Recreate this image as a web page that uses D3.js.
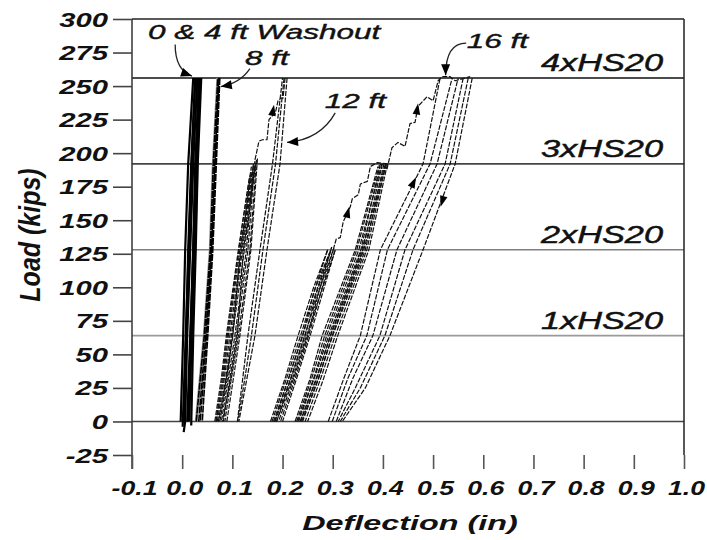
<!DOCTYPE html>
<html><head><meta charset="utf-8">
<script src="https://cdn.jsdelivr.net/npm/d3@7"></script>
<style>body{margin:0;background:#fff}svg{display:block}</style>
</head><body>
<svg id="c" width="707" height="540"></svg>
<script>
// ---------------- data ----------------
const xTicks = [-0.1,0.0,0.1,0.2,0.3,0.4,0.5,0.6,0.7,0.8,0.9,1.0];
const xTickLabels = ["-0.1","0.0","0.1","0.2","0.3","0.4","0.5","0.6","0.7","0.8","0.9","1.0"];
const yTicks = [-25,0,25,50,75,100,125,150,175,200,225,250,275,300];
const yTickLabels = ["-25","0","25","50","75","100","125","150","175","200","225","250","275","300"];
const hsLoads = [0,64,128,192,256];
const hsLabels = ["","1xHS20","2xHS20","3xHS20","4xHS20"];

// 0 & 4 ft washout cycles [deflection (in), load (kips)]
const washout0and4ft = [
  [[-0.003,0],[0.002,64],[0.006,128],[0.012,192],[0.022,256]],
  [[0.026,256],[0.018,192],[0.012,128],[0.008,64],[0.004,0]],
  [[0.003,-8],[0.006,0],[0.010,64],[0.016,128],[0.022,192],[0.030,256]],
  [[0.034,256],[0.026,192],[0.022,128],[0.017,64],[0.012,0]],
  [[0.010,0],[0.016,64],[0.022,128],[0.028,192],[0.036,256]],
  [[0.038,256],[0.031,192],[0.027,128],[0.022,64],[0.018,-3]],
  [[0.001,-4],[0.007,64],[0.013,128],[0.019,192],[0.026,256]],
  [[0.014,0],[0.019,64],[0.024,128],[0.029,192],[0.033,256]]
];
// 8 ft washout
const washout8ft = [
  [[0.028,0],[0.044,64],[0.056,128],[0.062,192],[0.071,256]],
  [[0.075,256],[0.068,192],[0.061,128],[0.051,64],[0.040,0]],
  [[0.033,0],[0.047,64],[0.058,128],[0.065,192],[0.073,256]],
  [[0.073,256],[0.066,192],[0.059,128],[0.049,64],[0.036,0]]
];
// 12 ft washout: cycles up to 3xHS20
const washout12ftCycles = [
  [[0.065,0],[0.078,32],[0.088,64],[0.112,128],[0.138,190]],
  [[0.148,195],[0.135,128],[0.112,64],[0.098,32],[0.085,0]],
  [[0.070,0],[0.084,32],[0.095,64],[0.118,128],[0.142,192]],
  [[0.142,192],[0.128,128],[0.105,64],[0.092,32],[0.078,0]],
  [[0.075,0],[0.090,32],[0.100,64],[0.124,128],[0.146,192]],
  [[0.150,196],[0.137,128],[0.115,64],[0.102,32],[0.089,0]],
  [[0.068,0],[0.082,32],[0.092,64],[0.115,128],[0.140,188]],
  [[0.144,190],[0.131,128],[0.108,64],[0.095,32],[0.082,0]],
  [[0.067,0],[0.080,32],[0.090,64],[0.110,120],[0.121,150],[0.134,182]],
  [[0.136,184],[0.125,150],[0.114,120],[0.101,64],[0.088,32],[0.073,0]],
  [[0.072,0],[0.087,32],[0.098,64],[0.120,128],[0.132,160],[0.145,194]],
  [[0.147,193],[0.134,160],[0.122,128],[0.110,64],[0.097,32],[0.080,0]]
];
// 12 ft washout: final loading to 4xHS20
const washout12ftFinal = [
  [[0.145,195],[0.148,200],[0.153,209],[0.160,210],[0.169,210],[0.173,225],[0.180,228],[0.185,229],[0.191,239],[0.197,241],[0.201,241],[0.205,256]],
  [[0.209,256],[0.195,192],[0.169,128],[0.145,64],[0.128,30],[0.113,0]],
  [[0.110,0],[0.120,30],[0.131,64],[0.155,128],[0.180,192],[0.200,256]],
  [[0.203,256],[0.186,192],[0.161,128],[0.138,64],[0.124,30],[0.111,0]]
];
// 16 ft washout: cycles to 2xHS20
const washout16ftStage1 = [
  [[0.176,0],[0.205,32],[0.231,64],[0.262,100],[0.290,128]],
  [[0.290,128],[0.262,96],[0.240,64],[0.212,32],[0.184,0]],
  [[0.182,0],[0.212,32],[0.240,64],[0.270,100],[0.298,130]],
  [[0.298,130],[0.272,96],[0.250,64],[0.222,32],[0.192,0]],
  [[0.188,0],[0.220,32],[0.248,64],[0.280,100],[0.305,128]],
  [[0.305,128],[0.280,96],[0.255,64],[0.228,32],[0.200,0]],
  [[0.179,0],[0.208,32],[0.236,64],[0.266,100],[0.294,126]],
  [[0.296,127],[0.268,96],[0.245,64],[0.217,32],[0.188,0]],
  [[0.185,0],[0.216,32],[0.244,64],[0.275,100],[0.302,129]],
  [[0.302,129],[0.276,96],[0.252,64],[0.225,32],[0.196,0]],
  [[0.301,128],[0.307,136],[0.315,137],[0.321,149],[0.335,160],[0.339,166],[0.351,169],[0.355,177],[0.369,179],[0.375,190],[0.389,193],[0.409,192]]
];
// 16 ft washout: cycles to 3xHS20
const washout16ftStage2 = [
  [[0.409,192],[0.372,128],[0.310,64],[0.280,30],[0.250,0]],
  [[0.225,0],[0.255,32],[0.279,64],[0.345,128],[0.390,190]],
  [[0.230,0],[0.262,32],[0.288,64],[0.352,128],[0.398,192]],
  [[0.402,192],[0.365,128],[0.300,64],[0.272,32],[0.240,0]],
  [[0.235,0],[0.268,32],[0.295,64],[0.358,128],[0.405,192]],
  [[0.395,192],[0.356,128],[0.292,64],[0.263,32],[0.232,0]],
  [[0.228,0],[0.258,32],[0.284,64],[0.348,128],[0.393,191]],
  [[0.406,192],[0.368,128],[0.305,64],[0.276,32],[0.245,0]],
  [[0.238,0],[0.271,32],[0.299,64],[0.362,128],[0.407,192]],
  [[0.399,192],[0.360,128],[0.296,64],[0.267,32],[0.236,0]]
];
// 16 ft washout: final cycles to 4xHS20
const washout16ftFinal = [
  [[0.408,188],[0.418,204],[0.430,208],[0.444,205],[0.454,222],[0.464,223],[0.470,235],[0.488,242],[0.500,239],[0.510,254],[0.518,257],[0.534,257],[0.544,254],[0.574,257]],
  [[0.291,0],[0.322,32],[0.355,64],[0.395,128],[0.480,192],[0.514,256]],
  [[0.578,256],[0.544,192],[0.480,128],[0.414,64],[0.365,25],[0.319,0]],
  [[0.299,0],[0.330,32],[0.368,64],[0.409,128],[0.494,192],[0.538,256]],
  [[0.570,256],[0.534,192],[0.460,128],[0.404,64],[0.355,25],[0.315,0]],
  [[0.307,0],[0.340,32],[0.380,64],[0.428,128],[0.508,192],[0.550,256]],
  [[0.560,256],[0.524,192],[0.444,128],[0.394,64],[0.345,25],[0.311,0]]
];
// direction arrows on curves: [from, tip]
const curveArrows = [
  [[0.178,226],[0.183,236]],
  [[0.326,150],[0.333,160]],
  [[0.466,227],[0.470,237]],
  [[0.453,172],[0.466,182]],
  [[0.523,170],[0.515,160]]
];
// annotations
const annoTexts = ["0 & 4 ft Washout","8 ft","12 ft","16 ft"];
const annoAnchors = [[-0.068,285],[0.125,266],[0.284,233.7],[0.567,278.4]];
const annoArrows = [
  [[-0.014,281],[-0.014,262],[0.0195,257.5]],
  [[0.135,263],[0.115,252],[0.077,249.6]],
  [[0.305,230],[0.275,210],[0.209,208]],
  [[0.566,282],[0.525,282],[0.525,258]]
];

// ---------------- drawing ----------------
const svg = d3.select("#c");
const FONT = "'Liberation Sans', Arial, Helvetica, sans-serif";
const x = d3.scaleLinear().domain([-0.1,1.0]).range([132,684]);
const y = d3.scaleLinear().domain([-25,300]).range([455,19]);
const SX = 1.5;

// HS reference lines
const hsColors = ["#444","#9a9a9a","#808080","#444","#111"];
svg.append("g").selectAll("line").data(hsLoads).join("line")
  .attr("x1", x(-0.1)).attr("x2", x(1.0))
  .attr("y1", d=>y(d)).attr("y2", d=>y(d))
  .attr("stroke", (d,i)=>hsColors[i]).attr("stroke-width", 1.6);

// frame
svg.append("line").attr("x1",x(-0.1)).attr("x2",x(1.0)).attr("y1",y(300)).attr("y2",y(300)).attr("stroke","#222").attr("stroke-width",1.5);
svg.append("line").attr("x1",x(1.0)).attr("x2",x(1.0)).attr("y1",y(300)).attr("y2",y(-25)).attr("stroke","#222").attr("stroke-width",1.5);
svg.append("line").attr("x1",x(-0.1)).attr("x2",x(-0.1)).attr("y1",y(300)).attr("y2",y(-25)+14).attr("stroke","#333").attr("stroke-width",1.5);

// axes
const yAxis = d3.axisLeft(y).tickValues(yTicks).tickSize(19).tickSizeOuter(0)
  .tickFormat((d,i)=>yTickLabels[i]);
const gy = svg.append("g").attr("transform",`translate(${x(-0.1)},0)`).call(yAxis);
gy.select(".domain").remove();
gy.selectAll(".tick line").attr("stroke","#444").attr("stroke-width",1.6);
gy.selectAll(".tick text").attr("x",0).attr("dy",null)
  .attr("transform",`translate(-24,7) scale(${SX},1)`)
  .attr("text-anchor","end").attr("font-family",FONT).attr("font-size",19.5)
  .attr("font-weight","bold").attr("font-style","italic").attr("fill","#111");

const xAxis = d3.axisBottom(x).tickValues(xTicks).tickSize(14).tickSizeOuter(0)
  .tickFormat((d,i)=>xTickLabels[i]);
const gx = svg.append("g").attr("transform",`translate(0,${y(-25)})`).call(xAxis);
gx.select(".domain").remove();
gx.selectAll(".tick line").attr("stroke","#555").attr("stroke-width",1.6);
gx.selectAll(".tick text").attr("y",0).attr("dy",null)
  .attr("transform",`translate(2,40) scale(1.3,1)`)
  .attr("text-anchor","middle").attr("font-family",FONT).attr("font-size",20.5)
  .attr("font-weight","bold").attr("font-style","italic").attr("fill","#111");

// axis titles
svg.append("text").attr("transform",`translate(410,530) scale(1.54,1)`)
  .attr("text-anchor","middle").attr("font-family",FONT).attr("font-size",21)
  .attr("font-weight","bold").attr("font-style","italic").attr("fill","#111")
  .text("Deflection (in)");
svg.append("text").attr("transform",`translate(40,235) scale(1.2,1) rotate(-90)`)
  .attr("text-anchor","middle").attr("font-family",FONT).attr("font-size",25)
  .attr("font-weight","bold").attr("font-style","italic").attr("fill","#111")
  .text("Load (kips)");

// HS labels
svg.append("g").selectAll("text").data(hsLoads.slice(1)).join("text")
  .attr("transform",d=>`translate(${x(0.715)},${y(d)-7}) scale(1.46,1)`)
  .attr("font-family",FONT).attr("font-size",23.5).attr("font-style","italic")
  .attr("fill","#111").attr("stroke","#111").attr("stroke-width",0.45)
  .text((d,i)=>hsLabels[i+1]);

// curves
const line = d3.line().x(d=>x(d[0])).y(d=>y(d[1]));
function drawGroup(data, color, width, dash){
  svg.append("g").selectAll("path").data(data).join("path")
    .attr("d", line).attr("fill","none").attr("stroke",color)
    .attr("stroke-width",width).attr("stroke-dasharray",dash)
    .attr("stroke-linejoin","round");
}
drawGroup([washout0and4ft[7]], "#9a9a9a", 4, null);
drawGroup(washout0and4ft, "#000", 2.2, null);
drawGroup([washout8ft[0]], "#999", 3, null);
drawGroup(washout8ft, "#000", 1.6, "7,1");
drawGroup(washout12ftCycles, "#111", 1.2, "5,1.5");
drawGroup(washout12ftFinal, "#111", 1.2, "5,1.5");
drawGroup(washout16ftStage1, "#111", 1.2, "5,1.5");
drawGroup(washout16ftStage2, "#111", 1.2, "5,1.5");
drawGroup(washout16ftFinal, "#111", 1.2, "5,1.5");

// triangle heads
function head(p0, p1, len, hw){
  const dx=p1[0]-p0[0], dy=p1[1]-p0[1], L=Math.hypot(dx,dy)||1;
  const ux=dx/L, uy=dy/L, bx=p1[0]-ux*len, by=p1[1]-uy*len;
  return `M${p1[0]},${p1[1]}L${bx-uy*hw},${by+ux*hw}L${bx+uy*hw},${by-ux*hw}Z`;
}
svg.append("g").selectAll("path").data(curveArrows).join("path")
  .attr("d", d=>head([x(d[0][0]),y(d[0][1])],[x(d[1][0]),y(d[1][1])],11,3.8))
  .attr("fill","#000");

// annotations
svg.append("g").selectAll("text").data(annoTexts).join("text")
  .attr("transform",(d,i)=>`translate(${x(annoAnchors[i][0])},${y(annoAnchors[i][1])}) scale(1.5,1)`)
  .attr("font-family",FONT).attr("font-size",21).attr("font-style","italic")
  .attr("fill","#111").attr("stroke","#111").attr("stroke-width",0.4)
  .text(d=>d);
const ga = svg.append("g");
annoArrows.forEach(a=>{
  const p = a.map(d=>[x(d[0]),y(d[1])]);
  const path = d3.path();
  path.moveTo(p[0][0],p[0][1]);
  path.quadraticCurveTo(p[1][0],p[1][1],p[2][0],p[2][1]);
  ga.append("path").attr("d",path.toString()).attr("fill","none").attr("stroke","#222").attr("stroke-width",1.3);
  ga.append("path").attr("d",head(p[1],p[2],11,4.5)).attr("fill","#000");
});
</script>
</body></html>
